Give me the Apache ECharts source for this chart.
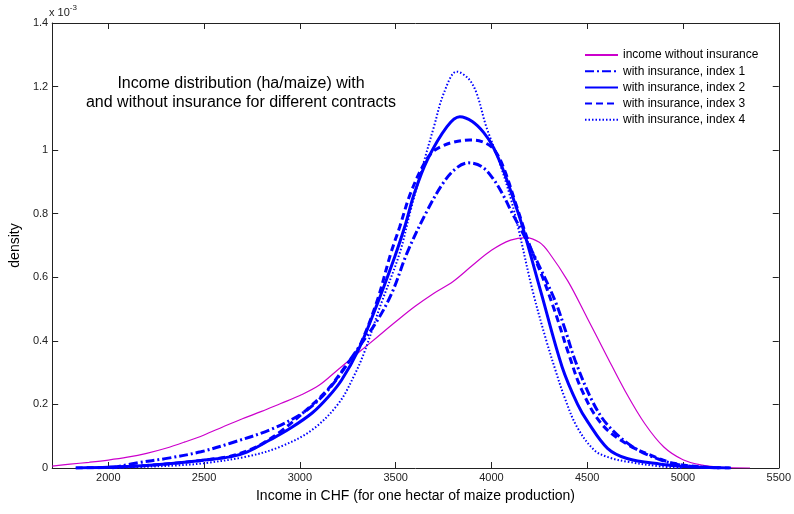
<!DOCTYPE html>
<html>
<head>
<meta charset="utf-8">
<script src="https://cdn.jsdelivr.net/npm/echarts@6/dist/echarts.min.js"></script>
<style>
html,body{margin:0;padding:0;background:#fff;}
#chart{width:794px;height:514px;}
</style>
</head>
<body>
<div id="chart"></div>
<script>
// ---- data (density in units of 1e-3) ----
var seriesNames = ['income without insurance', 'with insurance, index 1', 'with insurance, index 2', 'with insurance, index 3', 'with insurance, index 4'];
var xTickValues = [2000, 2500, 3000, 3500, 4000, 4500, 5000, 5500];

var noInsX = [1707, 1800, 1900, 2000, 2100, 2200, 2300, 2400, 2500, 2600, 2700, 2800, 2900, 3000, 3100, 3200, 3300, 3400, 3500, 3600, 3700, 3800, 3900, 4000, 4100, 4180, 4250, 4300, 4400, 4500, 4600, 4700, 4800, 4900, 5000, 5100, 5200, 5350];
var noInsY = [0.006, 0.012, 0.018, 0.025, 0.034, 0.046, 0.062, 0.082, 0.104, 0.13, 0.155, 0.178, 0.203, 0.228, 0.26, 0.31, 0.36, 0.41, 0.46, 0.508, 0.55, 0.587, 0.637, 0.685, 0.717, 0.725, 0.71, 0.678, 0.587, 0.472, 0.355, 0.24, 0.14, 0.066, 0.026, 0.009, 0.002, 0];

var idx1X = [2020, 2140, 2313, 2483, 2637, 2843, 3007, 3100, 3187, 3290, 3400, 3480, 3562, 3665, 3752, 3820, 3881, 3950, 4009, 4060, 4110, 4163, 4246, 4333, 4385, 4436, 4523, 4600, 4729, 4862, 5000, 5200];
var idx1Y = [0, 0.015, 0.031, 0.051, 0.078, 0.12, 0.17, 0.215, 0.275, 0.365, 0.46, 0.55, 0.68, 0.81, 0.9, 0.945, 0.96, 0.948, 0.91, 0.86, 0.8, 0.74, 0.64, 0.525, 0.435, 0.34, 0.215, 0.14, 0.07, 0.03, 0.008, 0];

var idx2X = [1830, 2000, 2200, 2345, 2500, 2637, 2723, 2843, 2950, 3064, 3150, 3218, 3305, 3400, 3495, 3547, 3598, 3665, 3768, 3835, 3900, 3960, 4009, 4060, 4110, 4163, 4260, 4369, 4450, 4503, 4606, 4708, 4883, 5000, 5243];
var idx2Y = [0, 0.002, 0.008, 0.015, 0.025, 0.035, 0.05, 0.088, 0.125, 0.173, 0.225, 0.277, 0.371, 0.51, 0.664, 0.758, 0.865, 0.969, 1.074, 1.105, 1.09, 1.055, 1.01, 0.94, 0.855, 0.758, 0.55, 0.318, 0.2, 0.145, 0.062, 0.03, 0.012, 0.005, 0];

var idx3X = [1830, 2000, 2200, 2345, 2500, 2637, 2750, 2807, 2900, 3033, 3150, 3250, 3305, 3400, 3475, 3521, 3578, 3655, 3700, 3740, 3800, 3886, 3950, 4009, 4060, 4128, 4200, 4267, 4333, 4400, 4472, 4573, 4708, 4862, 4950, 5100, 5250];
var idx3Y = [0, 0.002, 0.008, 0.015, 0.025, 0.037, 0.06, 0.078, 0.115, 0.182, 0.25, 0.33, 0.375, 0.52, 0.676, 0.758, 0.865, 0.965, 0.998, 1.012, 1.025, 1.032, 1.027, 1.005, 0.95, 0.83, 0.7, 0.6, 0.49, 0.365, 0.245, 0.14, 0.075, 0.033, 0.015, 0.003, 0];

var idx4X = [2020, 2200, 2350, 2500, 2723, 2894, 3064, 3203, 3290, 3340, 3420, 3521, 3578, 3650, 3700, 3752, 3819, 3880, 3922, 3973, 4040, 4100, 4140, 4214, 4282, 4333, 4380, 4446, 4539, 4620, 4708, 4883, 5000];
var idx4Y = [0, 0.004, 0.008, 0.015, 0.036, 0.066, 0.12, 0.204, 0.299, 0.37, 0.51, 0.676, 0.81, 0.969, 1.074, 1.18, 1.247, 1.225, 1.18, 1.074, 0.965, 0.85, 0.755, 0.56, 0.41, 0.31, 0.225, 0.13, 0.055, 0.032, 0.02, 0.005, 0];

function pairs(xs, ys) { return xs.map(function (x, i) { return [x, ys[i]]; }); }

var blue = '#0000ff';
var magenta = '#cc00cc';
var font = 'Liberation Sans, Arial, sans-serif';

var chart = echarts.init(document.getElementById('chart'), null, {renderer: 'canvas'});

function mkSeries(name, xs, ys, color, width, type) {
  return {
    name: name, type: 'line', data: pairs(xs, ys), showSymbol: false, symbol: 'none',
    smooth: 0.35, animation: false, xAxisIndex: 0, yAxisIndex: 0,
    lineStyle: {color: color, width: width, type: type},
    itemStyle: {color: color}
  };
}

var axisCol = '#222';
var option = {
  animation: false,
  grid: {left: 49, top: 23, width: 738, height: 445, show: false},
  legend: {
    show: true,
    data: seriesNames, orient: 'vertical', left: 579, top: 44,
    itemWidth: 33, itemHeight: 10, itemGap: 4.2,
    itemStyle: {opacity: 0},
    textStyle: {fontFamily: font, fontSize: 12, color: '#000'},
    selectedMode: false
  },
  xAxis: [{
    type: 'value', min: 1707, max: 5500, position: 'bottom',
    name: 'Income in CHF (for one hectar of maize production)', nameLocation: 'middle', nameGap: 21,
    nameTextStyle: {fontFamily: font, fontSize: 14, color: '#000'},
    axisLine: {show: true, onZero: false, lineStyle: {color: axisCol, width: 1}},
    axisTick: {show: true, inside: true, length: 6, customValues: xTickValues, lineStyle: {color: axisCol}},
    axisLabel: {customValues: xTickValues, fontFamily: font, fontSize: 11, color: '#222', margin: 4,
      formatter: function (v) { return String(v); }},
    splitLine: {show: false}
  }, {
    type: 'value', min: 1707, max: 5500, position: 'top',
    axisLine: {show: true, onZero: false, lineStyle: {color: axisCol, width: 1}},
    axisTick: {show: true, inside: true, length: 6, customValues: xTickValues, lineStyle: {color: axisCol}},
    axisLabel: {show: false}, splitLine: {show: false}
  }],
  yAxis: [{
    type: 'value', min: 0, max: 1.4, interval: 0.2, position: 'left',
    name: 'density', nameLocation: 'middle', nameGap: 17, nameRotate: 90,
    nameTextStyle: {fontFamily: font, fontSize: 14, color: '#000'},
    axisLine: {show: true, onZero: false, lineStyle: {color: axisCol, width: 1}},
    axisTick: {show: true, inside: true, length: 6, lineStyle: {color: axisCol}},
    axisLabel: {fontFamily: font, fontSize: 11, color: '#222', margin: 4},
    splitLine: {show: false}
  }, {
    type: 'value', min: 0, max: 1.4, interval: 0.2, position: 'right',
    axisLine: {show: true, onZero: false, lineStyle: {color: axisCol, width: 1}},
    axisTick: {show: true, inside: true, length: 6, lineStyle: {color: axisCol}},
    axisLabel: {show: false}, splitLine: {show: false}
  }],
  graphic: [{
    type: 'text', left: 49, top: 4,
    style: {
      text: '{a|x 10}{b|-3}',
      rich: {
        a: {fontFamily: font, fontSize: 11, fill: '#222', padding: [6, 0, 0, 0]},
        b: {fontFamily: font, fontSize: 8, fill: '#222', padding: [0, 0, 4, 0]}
      }
    }
  }, {
    type: 'text', x: 241, y: 74,
    style: {
      text: 'Income distribution (ha/maize) with\nand without insurance for different contracts',
      fontFamily: font, fontSize: 16, fill: '#000', align: 'center', verticalAlign: 'top', lineHeight: 19
    }
  }],
  series: [
    mkSeries(seriesNames[0], noInsX, noInsY, magenta, 1.2, 'solid'),
    mkSeries(seriesNames[1], idx1X, idx1Y, blue, 3, [9, 3, 2, 3]),
    mkSeries(seriesNames[2], idx2X, idx2Y, blue, 3, 'solid'),
    mkSeries(seriesNames[3], idx3X, idx3Y, blue, 3, [7, 4]),
    mkSeries(seriesNames[4], idx4X, idx4Y, blue, 2, [1.5, 2])
  ]
};
chart.setOption(option);
</script>
</body>
</html>
